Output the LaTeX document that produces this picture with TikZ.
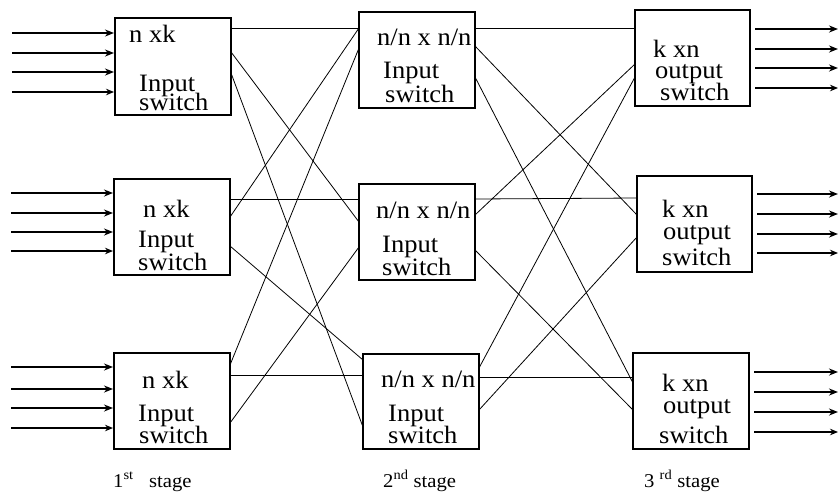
\documentclass[tikz,border=0pt]{standalone}
\usepackage{fontspec}
\setmainfont{Liberation Serif}[FakeStretch=1.06]
\usetikzlibrary{arrows.meta,calc}
\begin{document}
\begin{tikzpicture}[x=1pt,y=-1pt,
  swbox/.style={draw, line width=1.3pt, inner sep=0pt, outer sep=0pt, anchor=north west},
  link/.style={line width=0.8pt},
  inarrow/.style={line width=2pt, -{Stealth[length=9pt,width=7pt]}},
  thinarrow/.style={line width=1.5pt, -{Stealth[length=8pt,width=6.5pt]}},
  lbl/.style={anchor=base west, inner sep=0pt, font=\fontsize{25}{25}\selectfont},
  stagelbl/.style={anchor=base west, inner sep=0pt, font=\fontsize{19.5}{19.5}\selectfont}]
\useasboundingbox (0,0) rectangle (838,491);

% switch boxes: first, second and third stage
\node[swbox, minimum width=116pt, minimum height=97pt] (A1) at (115,18) {};
\node[swbox, minimum width=116pt, minimum height=96pt] (A2) at (114,179) {};
\node[swbox, minimum width=116pt, minimum height=96pt] (A3) at (114,353) {};
\node[swbox, minimum width=116pt, minimum height=96pt] (B1) at (359,12) {};
\node[swbox, minimum width=116pt, minimum height=96pt] (B2) at (359,184) {};
\node[swbox, minimum width=116pt, minimum height=95pt] (B3) at (363,354) {};
\node[swbox, minimum width=115pt, minimum height=96pt] (C1) at (635,10) {};
\node[swbox, minimum width=115pt, minimum height=96pt] (C2) at (637,176) {};
\node[swbox, minimum width=116pt, minimum height=96pt] (C3) at (633,353) {};

% box labels
\node[lbl] (a1t) at (129,42) {n xk};
\node[lbl] (a1u) at (139,91) {Input};
\node[lbl] (a1v) at (139,110) {switch};
\node[lbl] (a2t) at (143,217) {n xk};
\node[lbl] (a2u) at (138,247) {Input};
\node[lbl] (a2v) at (138,270) {switch};
\node[lbl] (a3t) at (142,388) {n xk};
\node[lbl] (a3u) at (138,421) {Input};
\node[lbl] (a3v) at (139,443) {switch};

\node[lbl] (b1t) at (377,45) {n/n x n/n};
\node[lbl] (b1u) at (383,78) {Input};
\node[lbl] (b1v) at (385,102) {switch};
\node[lbl] (b2t) at (376,218) {n/n x n/n};
\node[lbl] (b2u) at (382,252) {Input};
\node[lbl] (b2v) at (382,275) {switch};
\node[lbl] (b3t) at (381,387) {n/n x n/n};
\node[lbl] (b3u) at (388,421) {Input};
\node[lbl] (b3v) at (388,443) {switch};

\node[lbl] (c1t) at (653,57) {k xn};
\node[lbl] (c1u) at (655,78) {output};
\node[lbl] (c1v) at (660,100) {switch};
\node[lbl] (c2t) at (662,217) {k xn};
\node[lbl] (c2u) at (663,239) {output};
\node[lbl] (c2v) at (662,265) {switch};
\node[lbl] (c3t) at (662,391) {k xn};
\node[lbl] (c3u) at (663,413) {output};
\node[lbl] (c3v) at (659,443) {switch};

% stage captions
\node[stagelbl] (s1) at (113,487) {1\textsuperscript{st}\ \ \ stage};
\node[stagelbl] (s2) at (383,487) {2\textsuperscript{nd} stage};
\node[stagelbl] (s3) at (644,487) {3 \textsuperscript{rd} stage};

% ports on the right side of stage 1 and 2 boxes
\foreach \n/\p/\q/\r in {A1/10/34/55, A2/20/38/67, A3/12/22/70,
                        B1/16/34/65, B2/15/31/66, B3/14/23/56} {
  \coordinate (\n-o1) at ($(\n.north east)+(0,\p)$);
  \coordinate (\n-o2) at ($(\n.north east)+(0,\q)$);
  \coordinate (\n-o3) at ($(\n.north east)+(0,\r)$);
}
% ports on the left side of stage 2 and 3 boxes
\foreach \n/\p/\q/\r in {B1/16/36/36, B2/15/38/63, B3/6/21/73,
                        C1/18/54/67, C2/22/39/61, C3/24/30/57} {
  \coordinate (\n-i1) at ($(\n.north west)+(0,\p)$);
  \coordinate (\n-i2) at ($(\n.north west)+(0,\q)$);
  \coordinate (\n-i3) at ($(\n.north west)+(0,\r)$);
}

% interstage links, stage 1 to stage 2
\draw[link] (A1-o1) -- (B1-i1);
\draw[link] (A1-o2) -- (B2-i2);
\draw[link] (A1-o3) -- (B3-i3);
\draw[link] (A2-o1) -- (B2-i1);
\draw[link] (A2-o2) -- (B1-i1);
\draw[link] (A2-o3) -- (B3-i1);
\draw[link] (A3-o1) -- (B1-i2);
\draw[link] (A3-o2) -- (B3-i2);
\draw[link] (A3-o3) -- (B2-i3);
% stage 2 to stage 3
\draw[link] (B1-o1) -- (C1-i1);
\draw[link] (B1-o2) -- (C2-i2);
\draw[link] (B1-o3) -- (C3-i2);
\draw[link] (B2-o1) -- (C2-i1);
\draw[link] (B2-o2) -- (C1-i2);
\draw[link] (B2-o3) -- (C3-i3);
\draw[link] (B3-o1) -- (C1-i3);
\draw[link] (B3-o2) -- (C3-i1);
\draw[link] (B3-o3) -- (C2-i3);

% input lines into the first stage
\foreach \n/\a/\b/\c/\d in {A1/15/35/54/74, A2/14/34/53/72, A3/14/36/55/75} {
  \coordinate (\n-s1) at ($(\n.north west)+(-103,\a)$);
  \coordinate (\n-s2) at ($(\n.north west)+(-103,\b)$);
  \coordinate (\n-s3) at ($(\n.north west)+(-103,\c)$);
  \coordinate (\n-s4) at ($(\n.north west)+(-103,\d)$);
  \draw[inarrow] (\n-s1) -- ($(\n.north west)+(-1,\a)$);
  \draw[inarrow] (\n-s2) -- ($(\n.north west)+(-1,\b)$);
  \draw[inarrow] (\n-s3) -- ($(\n.north west)+(-1,\c)$);
  \draw[thinarrow] (\n-s4) -- ($(\n.north west)+(-1,\d)$);
}

% output lines from the third stage
\foreach \n/\w/\a/\b/\c/\d in {C1/88/19/39/58/78, C2/86/18/38/58/77, C3/89/19/39/59/79} {
  \coordinate (\n-e1) at ($(\n.north east)+(\w,\a)$);
  \coordinate (\n-e2) at ($(\n.north east)+(\w,\b)$);
  \coordinate (\n-e3) at ($(\n.north east)+(\w,\c)$);
  \coordinate (\n-e4) at ($(\n.north east)+(\w,\d)$);
  \draw[inarrow] ($(\n.north east)+(5,\a)$) -- (\n-e1);
  \draw[inarrow] ($(\n.north east)+(5,\b)$) -- (\n-e2);
  \draw[inarrow] ($(\n.north east)+(5,\c)$) -- (\n-e3);
  \draw[thinarrow] ($(\n.north east)+(5,\d)$) -- (\n-e4);
}
\end{tikzpicture}
\end{document}
